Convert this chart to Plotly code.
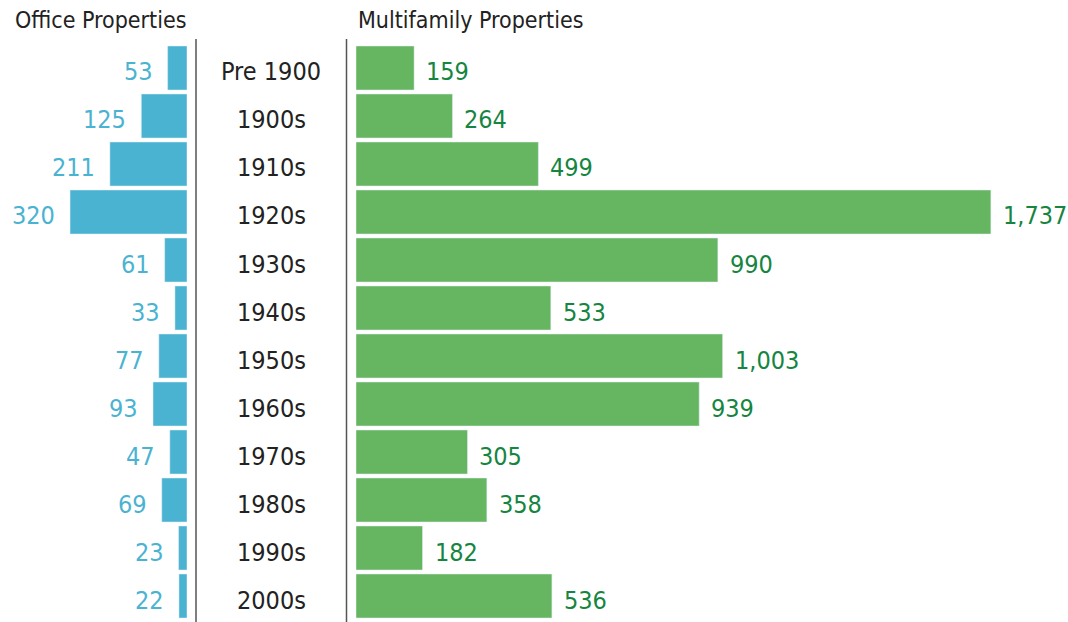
import plotly.graph_objects as go

decades = ["Pre 1900", "1900s", "1910s", "1920s", "1930s", "1940s",
           "1950s", "1960s", "1970s", "1980s", "1990s", "2000s"]
office = [53, 125, 211, 320, 61, 33, 77, 93, 47, 69, 23, 22]
multifamily = [159, 264, 499, 1737, 990, 533, 1003, 939, 305, 358, 182, 536]

BLUE = "#4ab3d1"
GREEN_BAR = "#65b561"
GREEN_TXT = "#15853f"
DARK = "#222222"
FONT = "DejaVu Sans Condensed, Roboto, sans-serif"

W, H = 1068, 622
PX_PER_UNIT = 0.3655

fig = go.Figure()

fig.add_trace(go.Bar(
    y=decades, x=office, orientation="h", marker_color=BLUE,
    xaxis="x", yaxis="y", showlegend=False, hoverinfo="x+y",
))
fig.add_trace(go.Bar(
    y=decades, x=multifamily, orientation="h", marker_color=GREEN_BAR,
    xaxis="x2", yaxis="y", showlegend=False, hoverinfo="x+y",
))

left_end = 187
right_start = 356
y_top_px, y_bot_px = 44, 620

annotations = []
for d, v in zip(decades, office):
    annotations.append(dict(
        x=v, y=d, xref="x", yref="y", text=f"{v:,}", showarrow=False,
        xanchor="right", yanchor="middle", xshift=-13, yshift=-4,
        font=dict(family=FONT, size=25, color=BLUE)))
for d, v in zip(decades, multifamily):
    annotations.append(dict(
        x=v, y=d, xref="x2", yref="y", text=f"{v:,}", showarrow=False,
        xanchor="left", yanchor="middle", xshift=10, yshift=-4,
        font=dict(family=FONT, size=25, color=GREEN_TXT)))
for d in decades:
    annotations.append(dict(
        x=271 / W, y=d, xref="paper", yref="y", text=d, showarrow=False,
        xanchor="center", yanchor="middle", yshift=-4,
        font=dict(family=FONT, size=25, color=DARK)))
annotations.append(dict(
    x=13 / W, y=1 - 5 / H, xref="paper", yref="paper", text="Office Properties",
    showarrow=False, xanchor="left", yanchor="top",
    font=dict(family=FONT, size=23, color=DARK)))
annotations.append(dict(
    x=356 / W, y=1 - 5 / H, xref="paper", yref="paper", text="Multifamily Properties",
    showarrow=False, xanchor="left", yanchor="top",
    font=dict(family=FONT, size=23, color=DARK)))

shapes = []
for xp in (196, 346.5):
    shapes.append(dict(type="line", xref="paper", yref="paper",
                       x0=xp / W, x1=xp / W, y0=0, y1=1 - 39 / H,
                       line=dict(color="#555555", width=1.5)))

fig.update_layout(
    width=W, height=H,
    margin=dict(l=0, r=0, t=0, b=0),
    paper_bgcolor="white", plot_bgcolor="white",
    bargap=4 / 48,
    xaxis=dict(domain=[0, left_end / W], range=[left_end / PX_PER_UNIT, 0],
               visible=False, fixedrange=True),
    xaxis2=dict(domain=[right_start / W, 1], range=[0, (W - right_start) / PX_PER_UNIT],
                visible=False, fixedrange=True, anchor="y"),
    yaxis=dict(domain=[(H - y_bot_px) / H, (H - y_top_px) / H],
               categoryorder="array", categoryarray=decades,
               autorange="reversed", visible=False, fixedrange=True),
    annotations=annotations,
    shapes=shapes,
    font=dict(family=FONT),
)

fig.write_html("out.html", config={"displayModeBar": False},
               post_script="document.body.style.margin='0';")
